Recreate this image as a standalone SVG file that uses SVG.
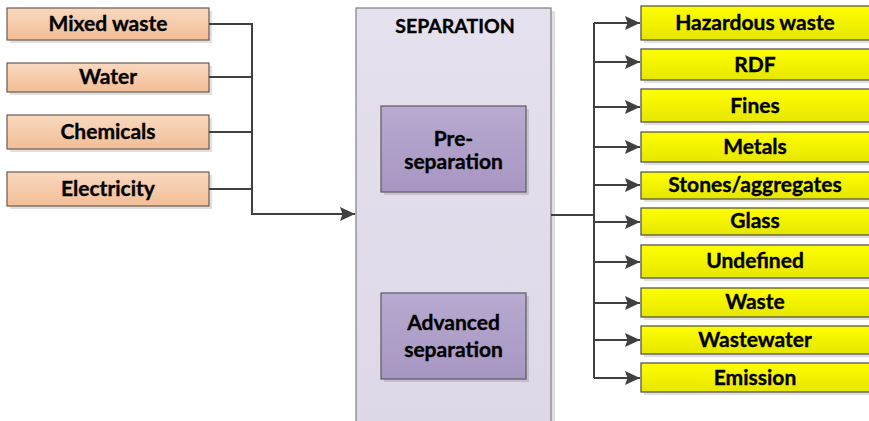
<svg xmlns="http://www.w3.org/2000/svg" width="869" height="421" viewBox="0 0 869 421">
<defs>
<linearGradient id="gPeach" x1="0" y1="0" x2="0" y2="1"><stop offset="0" stop-color="#f9d9bf"/><stop offset="1" stop-color="#f2be96"/></linearGradient>
<linearGradient id="gYellow" x1="0" y1="0" x2="0" y2="1"><stop offset="0" stop-color="#ffff00"/><stop offset="1" stop-color="#e6e600"/></linearGradient>
<linearGradient id="gPurple" x1="0" y1="0" x2="0" y2="1"><stop offset="0" stop-color="#b8aad0"/><stop offset="1" stop-color="#a796c2"/></linearGradient>
<linearGradient id="gSep" x1="0" y1="0" x2="0" y2="1"><stop offset="0" stop-color="#e6e1ee"/><stop offset="1" stop-color="#ddd7e8"/></linearGradient>
<marker id="arr" viewBox="0 0 15 14" refX="15" refY="7" markerWidth="15" markerHeight="14" markerUnits="userSpaceOnUse" orient="auto">
<path d="M0,0 L15,7 L0,14 L2.5,7 Z" fill="#404040"/>
</marker>
</defs>
<style>
.t{font-family:Lato,"Liberation Sans",sans-serif;font-weight:bold;font-size:21px;fill:#000;stroke:#000;stroke-width:0.35;text-anchor:middle}
.sh{fill:#000;opacity:0.12}
.in{fill:url(#gPeach);stroke:#6b5b50;stroke-width:1.2}
.out{fill:url(#gYellow);stroke:#4a4a4a;stroke-width:1.2}
.sub{fill:url(#gPurple);stroke:#5a5a5a;stroke-width:1.2}
.c{fill:none;stroke:#404040;stroke-width:2}
</style>
<g id="separation">
<rect class="sh" x="359" y="11" width="196" height="420"/>
<rect x="356" y="8" width="195" height="420" fill="url(#gSep)" stroke="#7f7f7f" stroke-width="1.2"/>
<text class="t" x="455" y="33" style="font-size:19.5px">SEPARATION</text>
</g>
<g id="pre-separation">
<rect class="sh" x="384" y="109" width="145" height="86"/>
<rect class="sub" x="381" y="106" width="145" height="86"/>
<text class="t" x="453.5" y="146">Pre-</text>
<text class="t" x="453.5" y="169">separation</text>
</g>
<g id="advanced-separation">
<rect class="sh" x="384" y="296" width="145" height="86"/>
<rect class="sub" x="381" y="293" width="145" height="86"/>
<text class="t" x="453.5" y="330">Advanced</text>
<text class="t" x="453.5" y="357">separation</text>
</g>
<g id="mixed-waste"><rect class="sh" x="10" y="11" width="202" height="32"/><rect class="in" x="7" y="8" width="202" height="32"/><text class="t" x="108" y="31">Mixed waste</text></g>
<g id="water"><rect class="sh" x="10" y="66" width="202" height="29"/><rect class="in" x="7" y="63" width="202" height="29"/><text class="t" x="108" y="84">Water</text></g>
<g id="chemicals"><rect class="sh" x="10" y="118" width="202" height="34"/><rect class="in" x="7" y="115" width="202" height="34"/><text class="t" x="108" y="139">Chemicals</text></g>
<g id="electricity"><rect class="sh" x="10" y="175" width="202" height="34"/><rect class="in" x="7" y="172" width="202" height="34"/><text class="t" x="108" y="196">Electricity</text></g>
<g id="hazardous-waste"><rect class="sh" x="644" y="9" width="229" height="34"/><rect class="out" x="641" y="6" width="229" height="34"/><text class="t" x="755" y="30">Hazardous waste</text></g>
<g id="rdf"><rect class="sh" x="644" y="52" width="229" height="31"/><rect class="out" x="641" y="49" width="229" height="31"/><text class="t" x="755" y="72">RDF</text></g>
<g id="fines"><rect class="sh" x="644" y="92" width="229" height="33"/><rect class="out" x="641" y="89" width="229" height="33"/><text class="t" x="755" y="113">Fines</text></g>
<g id="metals"><rect class="sh" x="644" y="135" width="229" height="30"/><rect class="out" x="641" y="132" width="229" height="30"/><text class="t" x="755" y="154">Metals</text></g>
<g id="stones-aggregates"><rect class="sh" x="644" y="175" width="229" height="27"/><rect class="out" x="641" y="172" width="229" height="27"/><text class="t" x="755" y="192">Stones/aggregates</text></g>
<g id="glass"><rect class="sh" x="644" y="211" width="229" height="27"/><rect class="out" x="641" y="208" width="229" height="27"/><text class="t" x="755" y="228">Glass</text></g>
<g id="undefined"><rect class="sh" x="644" y="248" width="229" height="33"/><rect class="out" x="641" y="245" width="229" height="33"/><text class="t" x="755" y="268">Undefined</text></g>
<g id="waste"><rect class="sh" x="644" y="291" width="229" height="29"/><rect class="out" x="641" y="288" width="229" height="29"/><text class="t" x="755" y="309">Waste</text></g>
<g id="wastewater"><rect class="sh" x="644" y="329" width="229" height="28"/><rect class="out" x="641" y="326" width="229" height="28"/><text class="t" x="755" y="347">Wastewater</text></g>
<g id="emission"><rect class="sh" x="644" y="366" width="229" height="29"/><rect class="out" x="641" y="363" width="229" height="29"/><text class="t" x="755" y="385">Emission</text></g>
<g id="connectors">
<path class="c" d="M209,24 H252 M209,77 H252 M209,132 H252 M209,189 H252"/>
<path class="c" d="M252,23 V214 H355" marker-end="url(#arr)"/>
<path class="c" d="M551,215 H594"/>
<path class="c" d="M594,23 V378"/>
<path class="c" d="M594,23 H640" marker-end="url(#arr)"/>
<path class="c" d="M594,62 H640" marker-end="url(#arr)"/>
<path class="c" d="M594,107 H640" marker-end="url(#arr)"/>
<path class="c" d="M594,147 H640" marker-end="url(#arr)"/>
<path class="c" d="M594,185 H640" marker-end="url(#arr)"/>
<path class="c" d="M594,222 H640" marker-end="url(#arr)"/>
<path class="c" d="M594,262 H640" marker-end="url(#arr)"/>
<path class="c" d="M594,303 H640" marker-end="url(#arr)"/>
<path class="c" d="M594,340 H640" marker-end="url(#arr)"/>
<path class="c" d="M594,378 H640" marker-end="url(#arr)"/>
</g>
</svg>
